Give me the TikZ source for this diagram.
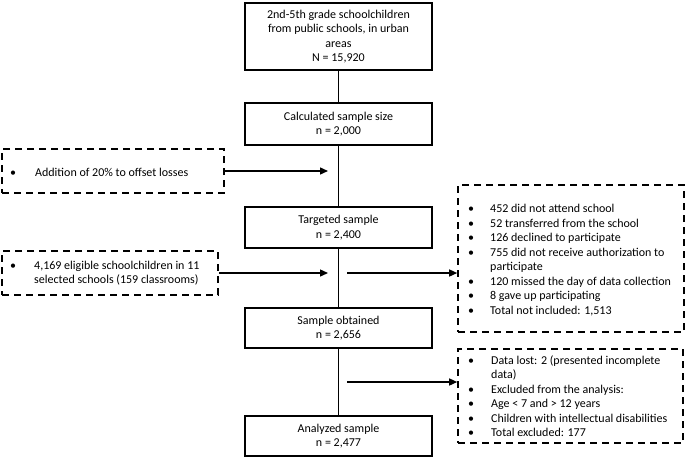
\documentclass[tikz,border=0pt]{standalone}
\usepackage{fontspec}
\setmainfont{Carlito}
\usetikzlibrary{arrows.meta}
\begin{document}
\begin{tikzpicture}[x=1pt,y=-1pt, font=\fontsize{12}{14.5}\selectfont,
 solidbox/.style={draw, line width=1.8pt, align=center, minimum width=187pt, inner sep=0pt},
 dbox/.style={draw, line width=1.6pt, dash pattern=on 7pt off 5pt, inner sep=0pt},
 conn/.style={line width=1.8pt},
 arr/.style={line width=1.4pt, -{Triangle[length=8pt,width=7pt]}},
 bl/.style={align=left, inner sep=0pt, anchor=west}]
\useasboundingbox (0,0) rectangle (685,458);

\node[solidbox, minimum height=67pt] (b1) at (338.5,36.5) {2nd-5th grade schoolchildren\\from public schools, in urban\\areas\\N = 15,920};
\node[solidbox, minimum height=42pt] (b2) at (338.5,124) {Calculated sample size\\n = 2,000};
\node[solidbox, minimum height=41pt] (b3) at (338.5,227.5) {Targeted sample\\n = 2,400};
\node[solidbox, minimum height=40pt] (b4) at (338.5,328) {Sample obtained\\n = 2,656};
\node[solidbox, minimum height=40pt] (b5) at (338.5,436) {Analyzed sample\\n = 2,477};

\node[dbox, minimum width=222pt, minimum height=44pt] (l1) at (113,171) {};
\node[dbox, minimum width=216pt, minimum height=44pt] (l2) at (110,273) {};
\node[dbox, minimum width=226pt, minimum height=147pt] (r1) at (571,258.5) {};
\node[dbox, minimum width=225pt, minimum height=94pt] (r2) at (570.5,396) {};

\node[bl] (l1t) at (10,172) {\makebox[25pt][l]{\textbullet}Addition of 20\% to offset losses};
\node[bl] (l2t) at (10,273) {\makebox[24pt][l]{\textbullet}4,169 eligible schoolchildren in 11\\\hspace*{24pt}selected schools (159 classrooms)};

\node[bl] (r1t) at (468,260) {\makebox[22pt][l]{\textbullet}452 did not attend school\\
\makebox[22pt][l]{\textbullet}52 transferred from the school\\
\makebox[22pt][l]{\textbullet}126 declined to participate\\
\makebox[22pt][l]{\textbullet}755 did not receive authorization to\\
\hspace*{22pt}participate\\
\makebox[22pt][l]{\textbullet}120 missed the day of data collection\\
\makebox[22pt][l]{\textbullet}8 gave up participating\\
\makebox[22pt][l]{\textbullet}Total not included: 1,513};

\node[bl] (r2t) at (468,396) {\makebox[23pt][l]{\textbullet}Data lost: 2 (presented incomplete\\
\hspace*{23pt}data)\\
\makebox[23pt][l]{\textbullet}Excluded from the analysis:\\
\makebox[23pt][l]{\textbullet}Age < 7 and > 12 years\\
\makebox[23pt][l]{\textbullet}Children with intellectual disabilities\\
\makebox[23pt][l]{\textbullet}Total excluded: 177};

\draw[conn] (b1.south) -- (b2.north);
\draw[conn] (b2.south) -- (b3.north);
\draw[conn] (b3.south) -- (b4.north);
\draw[conn] (b4.south) -- (b5.north);

\coordinate (a1) at (328,171);
\coordinate (a2) at (328,273);
\coordinate (s2) at (347,273);
\coordinate (s3) at (347,382);
\draw[arr] (l1.east) -- (a1);
\draw[arr] (l2.east) -- (a2);
\draw[arr] (s2) -- (s2 -| r1.west);
\draw[arr] (s3) -- (s3 -| r2.west);
\end{tikzpicture}
\end{document}
